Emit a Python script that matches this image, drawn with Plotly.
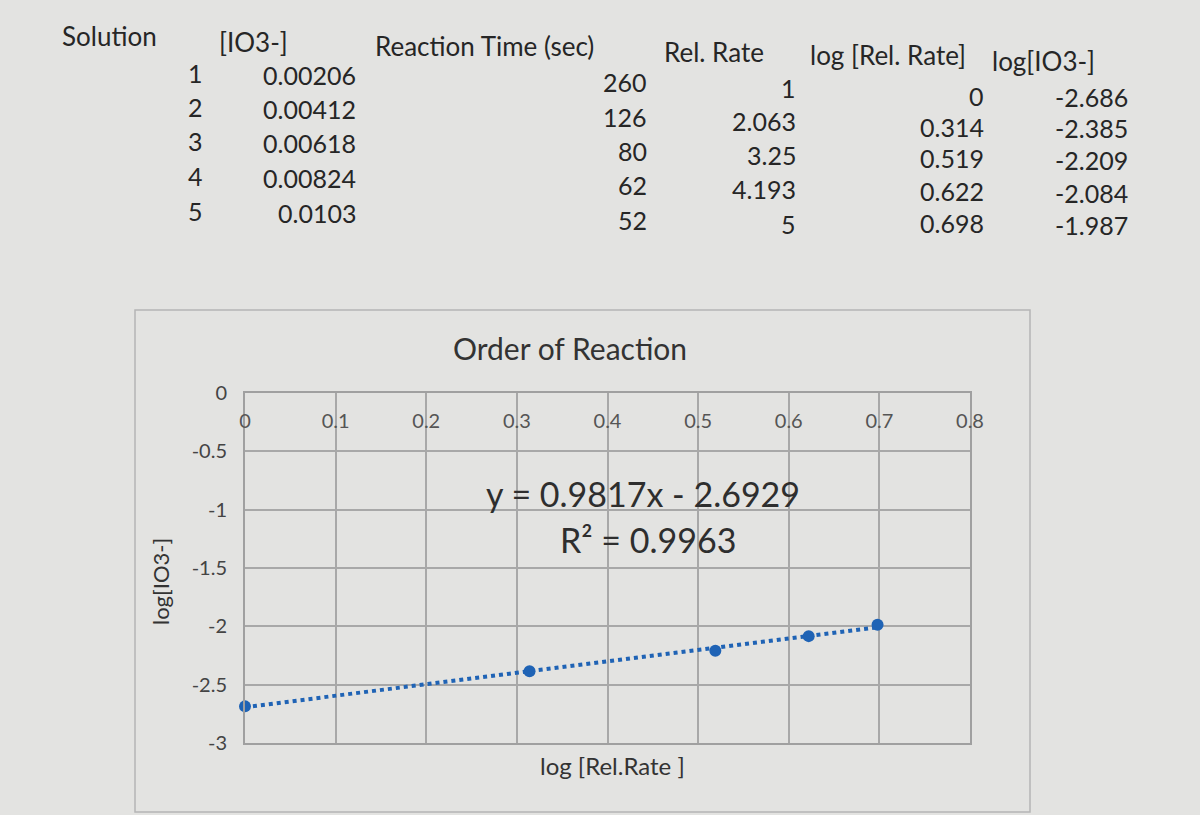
import plotly.graph_objects as go

# ---------------- data ----------------
solution = ["1", "2", "3", "4", "5"]
io3_conc = ["0.00206", "0.00412", "0.00618", "0.00824", "0.0103"]
reaction_time = ["260", "126", "80", "62", "52"]
rel_rate = ["1", "2.063", "3.25", "4.193", "5"]
log_rel_rate = [0, 0.314, 0.519, 0.622, 0.698]
log_io3 = [-2.686, -2.385, -2.209, -2.084, -1.987]
log_rel_rate_txt = ["0", "0.314", "0.519", "0.622", "0.698"]
log_io3_txt = ["-2.686", "-2.385", "-2.209", "-2.084", "-1.987"]
headers = ["Solution", "[IO3-]", "Reaction Time (sec)", "Rel. Rate", "log [Rel. Rate]", "log[IO3-]"]
slope = 0.9817
intercept = -2.6929
r_squared = 0.9963
x_ticks = [0, 0.1, 0.2, 0.3, 0.4, 0.5, 0.6, 0.7, 0.8]
y_ticks = [0, -0.5, -1, -1.5, -2, -2.5, -3]

# ---------------- layout helpers ----------------
W, H = 1200, 815
L, R, T, B = 245, 970, 393, 743
def px(x):
    return (x - L) / (R - L)
def py(y):
    return (B - y) / (B - T)

FONT = "Lato, Open Sans, sans-serif"
TXT = "#262626"
BLUE = "#1f63b5"

fig = go.Figure()

# trendline (linear fit) over the data range
x_min, x_max = min(log_rel_rate), max(log_rel_rate)
fig.add_trace(go.Scatter(
    x=[x_min, x_max],
    y=[slope * x_min + intercept, slope * x_max + intercept],
    mode="lines", line=dict(color=BLUE, width=4, dash="dot"),
    cliponaxis=False, hoverinfo="skip", showlegend=False))

fig.add_trace(go.Scatter(
    x=log_rel_rate, y=log_io3, mode="markers",
    marker=dict(color=BLUE, size=12), cliponaxis=False, showlegend=False))

ann = []
# table headers
head_pos = [(60, 36), (217, 42), (373, 46), (662, 52), (808, 55), (990, 61)]
for h, (hx, hy) in zip(headers, head_pos):
    ann.append(dict(text=h, x=px(hx), y=py(hy), xanchor="left", yanchor="middle",
                    font=dict(size=26, color=TXT, family=FONT)))

cols = [
    (solution, 205, [73, 107, 141, 176, 211]),
    (io3_conc, 358, [75, 109, 143, 178, 213]),
    (reaction_time, 649, [82, 117, 151, 185, 220]),
    (rel_rate, 798, [88, 121, 155, 189, 224]),
    (log_rel_rate_txt, 986, [96, 127, 158, 191, 223]),
    (log_io3_txt, 1130, [97, 128, 160, 193, 225]),
]
for vals, cx, ys in cols:
    for v, yy in zip(vals, ys):
        ann.append(dict(text=v, x=px(cx), y=py(yy), xanchor="right", yanchor="middle",
                        font=dict(size=25, color=TXT, family=FONT)))

# chart title and axis titles
ann.append(dict(text="Order of Reaction", x=px(570), y=py(348), xanchor="center", yanchor="middle",
                font=dict(size=30, color="#333", family=FONT)))
ann.append(dict(text="log [Rel.Rate ]", x=px(612), y=py(765), xanchor="center", yanchor="middle",
                font=dict(size=24, color="#333", family=FONT)))
ann.append(dict(text="log[IO3-]", x=px(160), y=py(582), xanchor="center", yanchor="middle",
                textangle=-90, font=dict(size=22, color="#333", family=FONT)))
# trendline equation
ann.append(dict(text=f"y = {slope}x - {abs(intercept)}", x=px(643), y=py(493),
                xanchor="center", yanchor="middle", font=dict(size=34, color="#2e2e2e", family=FONT)))
ann.append(dict(text=f"R² = {r_squared}", x=px(648), y=py(539),
                xanchor="center", yanchor="middle", font=dict(size=34, color="#2e2e2e", family=FONT)))

for a in ann:
    a.update(xref="paper", yref="paper", showarrow=False)

# chart frame
shapes = [dict(type="rect", xref="paper", yref="paper",
               x0=px(135), x1=px(1030), y0=py(812), y1=py(310),
               line=dict(color="#b5b5b5", width=1.5), fillcolor="rgba(0,0,0,0)", layer="below")]

fig.update_layout(
    width=W, height=H,
    margin=dict(l=L, r=W - R, t=T, b=H - B),
    paper_bgcolor="#e3e3e1", plot_bgcolor="#e3e3e1",
    font=dict(family=FONT, color="#444"),
    annotations=ann, shapes=shapes,
    xaxis=dict(range=[0, 0.8], tickvals=x_ticks, ticktext=[f"{v:g}" for v in x_ticks],
               side="top", ticklabelposition="inside", ticklabeloverflow="allow",
               ticks="", ticklabelstandoff=22,
               showgrid=True, gridcolor="#a8a8a8", gridwidth=1.5,
               showline=True, linecolor="#a0a0a0", linewidth=2, mirror=True,
               zeroline=False, tickfont=dict(size=20, color="#555")),
    yaxis=dict(range=[-3, 0], tickvals=y_ticks, ticktext=[f"{v:g}" for v in y_ticks],
               ticks="", ticklabelstandoff=12, ticklabeloverflow="allow",
               showgrid=True, gridcolor="#a8a8a8", gridwidth=1.5,
               showline=True, linecolor="#a0a0a0", linewidth=2, mirror=True,
               zeroline=False, tickfont=dict(size=20, color="#444")),
)

fig.write_html("out.html", config={"displayModeBar": False},
               post_script="document.body.style.margin='0';document.body.style.background='#e3e3e1';")
